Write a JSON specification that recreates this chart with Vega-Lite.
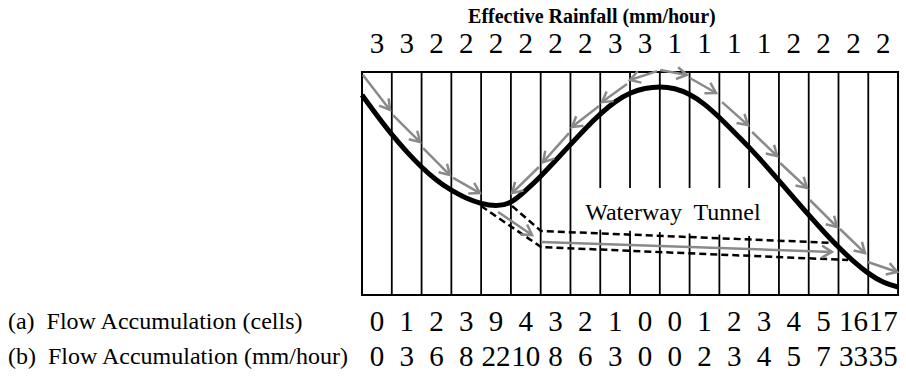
{
  "$schema": "https://vega.github.io/schema/vega-lite/v6.json",
  "width": 906,
  "height": 377,
  "autosize": {"type": "none"},
  "padding": 0,
  "background": "white",
  "config": {"view": {"stroke": null}},
  "datasets": {
    "cells": [
      {"cell": 0, "rainfall": 3, "flow_cells": 0, "flow_mm": 0},
      {"cell": 1, "rainfall": 3, "flow_cells": 1, "flow_mm": 3},
      {"cell": 2, "rainfall": 2, "flow_cells": 2, "flow_mm": 6},
      {"cell": 3, "rainfall": 2, "flow_cells": 3, "flow_mm": 8},
      {"cell": 4, "rainfall": 2, "flow_cells": 9, "flow_mm": 22},
      {"cell": 5, "rainfall": 2, "flow_cells": 4, "flow_mm": 10},
      {"cell": 6, "rainfall": 2, "flow_cells": 3, "flow_mm": 8},
      {"cell": 7, "rainfall": 2, "flow_cells": 2, "flow_mm": 6},
      {"cell": 8, "rainfall": 3, "flow_cells": 1, "flow_mm": 3},
      {"cell": 9, "rainfall": 3, "flow_cells": 0, "flow_mm": 0},
      {"cell": 10, "rainfall": 1, "flow_cells": 0, "flow_mm": 0},
      {"cell": 11, "rainfall": 1, "flow_cells": 1, "flow_mm": 2},
      {"cell": 12, "rainfall": 1, "flow_cells": 2, "flow_mm": 3},
      {"cell": 13, "rainfall": 1, "flow_cells": 3, "flow_mm": 4},
      {"cell": 14, "rainfall": 2, "flow_cells": 4, "flow_mm": 5},
      {"cell": 15, "rainfall": 2, "flow_cells": 5, "flow_mm": 7},
      {"cell": 16, "rainfall": 2, "flow_cells": 16, "flow_mm": 33},
      {"cell": 17, "rainfall": 2, "flow_cells": 17, "flow_mm": 35}
    ],
    "gridlines": [
      {"line": 1, "low": 0, "high": 100},
      {"line": 2, "low": 0, "high": 100},
      {"line": 3, "low": 0, "high": 100},
      {"line": 4, "low": 0, "high": 100},
      {"line": 5, "low": 0, "high": 100},
      {"line": 6, "low": 0, "high": 100},
      {"line": 7, "low": 0, "high": 100},
      {"line": 8, "low": 0, "high": 29.3},
      {"line": 8, "low": 48, "high": 100},
      {"line": 9, "low": 0, "high": 28.8},
      {"line": 9, "low": 48, "high": 100},
      {"line": 10, "low": 0, "high": 28.2},
      {"line": 10, "low": 48, "high": 100},
      {"line": 11, "low": 0, "high": 27.6},
      {"line": 11, "low": 48, "high": 100},
      {"line": 12, "low": 0, "high": 27.1},
      {"line": 12, "low": 48, "high": 100},
      {"line": 13, "low": 0, "high": 26.5},
      {"line": 13, "low": 48, "high": 100},
      {"line": 14, "low": 0, "high": 100},
      {"line": 15, "low": 0, "high": 100},
      {"line": 16, "low": 0, "high": 100},
      {"line": 17, "low": 0, "high": 100}
    ],
    "terrain": [
      {"pos": 0, "elev": 89.7}, {"pos": 0.5, "elev": 80.6}, {"pos": 1, "elev": 72.0}, {"pos": 1.5, "elev": 64.3},
      {"pos": 2, "elev": 57.4}, {"pos": 2.5, "elev": 51.6}, {"pos": 3, "elev": 47.0}, {"pos": 3.5, "elev": 43.5},
      {"pos": 4, "elev": 41.1}, {"pos": 4.5, "elev": 40.1}, {"pos": 5, "elev": 41.7}, {"pos": 5.5, "elev": 46.9},
      {"pos": 6, "elev": 53.3}, {"pos": 6.5, "elev": 60.3}, {"pos": 7, "elev": 67.5}, {"pos": 7.5, "elev": 74.6},
      {"pos": 8, "elev": 81.1}, {"pos": 8.5, "elev": 86.6}, {"pos": 9, "elev": 90.5}, {"pos": 9.5, "elev": 92.6},
      {"pos": 10, "elev": 93.3}, {"pos": 10.5, "elev": 92.5}, {"pos": 11, "elev": 89.9}, {"pos": 11.5, "elev": 85.5},
      {"pos": 12, "elev": 79.6}, {"pos": 12.5, "elev": 73.0}, {"pos": 13, "elev": 66.2}, {"pos": 13.5, "elev": 58.9},
      {"pos": 14, "elev": 51.3}, {"pos": 14.5, "elev": 43.6}, {"pos": 15, "elev": 35.9}, {"pos": 15.5, "elev": 28.5},
      {"pos": 16, "elev": 21.5}, {"pos": 16.5, "elev": 15.2}, {"pos": 17, "elev": 9.8}, {"pos": 17.5, "elev": 5.8},
      {"pos": 18, "elev": 3.6}
    ],
    "tunnel": [
      {"wall": "upper", "pos": 5.04, "elev": 39.9},
      {"wall": "upper", "pos": 6.01, "elev": 28.7},
      {"wall": "upper", "pos": 15.95, "elev": 23.3},
      {"wall": "lower", "pos": 4.0, "elev": 39.9},
      {"wall": "lower", "pos": 6.01, "elev": 21.5},
      {"wall": "lower", "pos": 16.32, "elev": 15.7}
    ],
    "flows": [
      {"x0": 0.03, "y0": 98.7, "x1": 0.94, "y1": 83.0},
      {"x0": 1.04, "y0": 80.7, "x1": 1.95, "y1": 68.6},
      {"x0": 2.05, "y0": 65.9, "x1": 2.95, "y1": 53.8},
      {"x0": 3.06, "y0": 52.5, "x1": 3.96, "y1": 45.7},
      {"x0": 5.94, "y0": 57.4, "x1": 5.04, "y1": 45.7},
      {"x0": 6.95, "y0": 72.6, "x1": 6.08, "y1": 59.6},
      {"x0": 7.96, "y0": 84.8, "x1": 7.05, "y1": 75.3},
      {"x0": 8.90, "y0": 94.6, "x1": 8.06, "y1": 86.5},
      {"x0": 9.91, "y0": 100.4, "x1": 9.00, "y1": 96.4},
      {"x0": 10.01, "y0": 100.9, "x1": 10.91, "y1": 98.7},
      {"x0": 11.01, "y0": 97.3, "x1": 11.89, "y1": 90.6},
      {"x0": 12.09, "y0": 86.5, "x1": 12.96, "y1": 76.2},
      {"x0": 13.10, "y0": 73.1, "x1": 13.94, "y1": 62.3},
      {"x0": 14.04, "y0": 59.2, "x1": 14.94, "y1": 48.0},
      {"x0": 15.04, "y0": 42.6, "x1": 15.95, "y1": 30.5},
      {"x0": 16.05, "y0": 29.6, "x1": 16.89, "y1": 18.8},
      {"x0": 16.99, "y0": 14.8, "x1": 17.97, "y1": 10.3},
      {"x0": 4.57, "y0": 37.2, "x1": 5.71, "y1": 26.9},
      {"x0": 6.01, "y0": 23.8, "x1": 15.78, "y1": 19.3}
    ]
  },
  "encoding": {
    "x": {"type": "quantitative", "scale": {"domain": [-12.156, 18.267], "nice": false, "zero": false}, "axis": null},
    "y": {"type": "quantitative", "scale": {"domain": [-36.77, 132.29], "nice": false, "zero": false}, "axis": null}
  },
  "layer": [
    {
      "data": {"values": [{"left": 0, "right": 18, "bottom": 0, "top": 100}]},
      "mark": {"type": "rect", "fill": null, "fillOpacity": 0, "stroke": "black", "strokeWidth": 2},
      "encoding": {
        "x": {"field": "left", "type": "quantitative"},
        "x2": {"field": "right"},
        "y": {"field": "bottom", "type": "quantitative"},
        "y2": {"field": "top"}
      }
    },
    {
      "data": {"name": "gridlines"},
      "mark": {"type": "rule", "stroke": "black", "strokeWidth": 1.8},
      "encoding": {
        "x": {"field": "line", "type": "quantitative"},
        "y": {"field": "low", "type": "quantitative"},
        "y2": {"field": "high"}
      }
    },
    {
      "data": {"name": "tunnel"},
      "mark": {"type": "line", "stroke": "black", "strokeWidth": 2.5, "strokeDash": [7, 4]},
      "encoding": {
        "x": {"field": "pos", "type": "quantitative"},
        "y": {"field": "elev", "type": "quantitative"},
        "detail": {"field": "wall"},
        "order": {"field": "pos"}
      }
    },
    {
      "data": {"name": "terrain"},
      "mark": {"type": "line", "stroke": "black", "strokeWidth": 5, "interpolate": "natural"},
      "encoding": {
        "x": {"field": "pos", "type": "quantitative"},
        "y": {"field": "elev", "type": "quantitative"}
      }
    },
    {
      "data": {"name": "flows"},
      "mark": {"type": "rule", "stroke": "#8a8a8a", "strokeWidth": 2.5},
      "encoding": {
        "x": {"field": "x0", "type": "quantitative"},
        "y": {"field": "y0", "type": "quantitative"},
        "x2": {"field": "x1"},
        "y2": {"field": "y1"}
      }
    },
    {
      "data": {"name": "flows"},
      "transform": [
        {"calculate": "atan2((datum.y0 - datum.y1) * 2.23, (datum.x1 - datum.x0) * 29.78) * 180 / PI", "as": "heading"}
      ],
      "mark": {"type": "point", "shape": "M-1,-0.6L0,0L-1,0.6", "filled": false, "stroke": "#8a8a8a", "strokeWidth": 2.5, "size": 400, "opacity": 1},
      "encoding": {
        "x": {"field": "x1", "type": "quantitative"},
        "y": {"field": "y1", "type": "quantitative"},
        "angle": {"field": "heading", "type": "quantitative", "scale": null}
      }
    },
    {
      "data": {"values": [{"label": "Waterway\u00a0 Tunnel", "pos": 10.44, "elev": 36.8}]},
      "mark": {"type": "text", "font": "Liberation Serif", "fontSize": 24, "align": "center", "baseline": "middle", "color": "black"},
      "encoding": {
        "x": {"field": "pos", "type": "quantitative"},
        "y": {"field": "elev", "type": "quantitative"},
        "text": {"field": "label"}
      }
    },
    {
      "data": {"values": [{"label": "Effective Rainfall (mm/hour)", "pos": 7.72, "elev": 124.7}]},
      "mark": {"type": "text", "font": "Liberation Serif", "fontSize": 20, "fontWeight": "bold", "align": "center", "baseline": "middle", "color": "black"},
      "encoding": {
        "x": {"field": "pos", "type": "quantitative"},
        "y": {"field": "elev", "type": "quantitative"},
        "text": {"field": "label"}
      }
    },
    {
      "data": {"values": [
        {"label": "(a)\u00a0 Flow Accumulation (cells)", "pos": -11.89, "elev": -12.1},
        {"label": "(b)\u00a0 Flow Accumulation (mm/hour)", "pos": -11.89, "elev": -27.8}
      ]},
      "mark": {"type": "text", "font": "Liberation Serif", "fontSize": 24, "align": "left", "baseline": "middle", "color": "black"},
      "encoding": {
        "x": {"field": "pos", "type": "quantitative"},
        "y": {"field": "elev", "type": "quantitative"},
        "text": {"field": "label"}
      }
    },
    {
      "data": {"name": "cells"},
      "mark": {"type": "text", "font": "Liberation Serif", "fontSize": 29, "align": "center", "baseline": "middle", "dx": 14.89, "color": "black"},
      "encoding": {
        "x": {"field": "cell", "type": "quantitative"},
        "y": {"datum": 112.6},
        "text": {"field": "rainfall", "type": "quantitative"}
      }
    },
    {
      "data": {"name": "cells"},
      "mark": {"type": "text", "font": "Liberation Serif", "fontSize": 29, "align": "center", "baseline": "middle", "dx": 14.89, "color": "black"},
      "encoding": {
        "x": {"field": "cell", "type": "quantitative"},
        "y": {"datum": -12.1},
        "text": {"field": "flow_cells", "type": "quantitative"}
      }
    },
    {
      "data": {"name": "cells"},
      "mark": {"type": "text", "font": "Liberation Serif", "fontSize": 29, "align": "center", "baseline": "middle", "dx": 14.89, "color": "black"},
      "encoding": {
        "x": {"field": "cell", "type": "quantitative"},
        "y": {"datum": -27.8},
        "text": {"field": "flow_mm", "type": "quantitative"}
      }
    }
  ]
}
